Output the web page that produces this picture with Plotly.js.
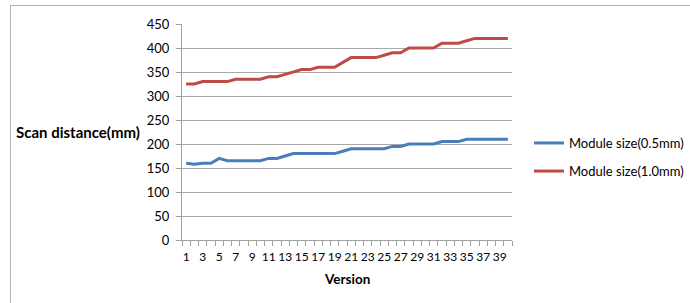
<!DOCTYPE html>
<html>
<head>
<meta charset="utf-8">
<script src="https://cdn.plot.ly/plotly-3.0.1.min.js"></script>
<style>
  html, body { margin: 0; padding: 0; background: #fff; overflow: hidden; }
  #wrap { position: relative; width: 690px; height: 303px; overflow: hidden; }
  #chart { position: absolute; left: 0; top: 0; width: 720px; height: 303px; }
  #frame { position: absolute; left: 10px; top: 5px; width: 690px; height: 310px;
           border-left: 1px solid #b4b4b4; border-top: 1px solid #b4b4b4; pointer-events: none; }
</style>
</head>
<body>
<div id="wrap">
  <div id="chart"></div>
  <div id="frame"></div>
</div>
<script>
const versions = Array.from({length: 40}, (_, i) => i + 1);
const size05 = [160, 158, 160, 160, 170, 165, 165, 165, 165, 165,
                170, 170, 175, 180, 180, 180, 180, 180, 180, 185,
                190, 190, 190, 190, 190, 195, 195, 200, 200, 200,
                200, 205, 205, 205, 210, 210, 210, 210, 210, 210];
const size10 = [325, 325, 330, 330, 330, 330, 335, 335, 335, 335,
                340, 340, 345, 350, 355, 355, 360, 360, 360, 370,
                380, 380, 380, 380, 385, 390, 390, 400, 400, 400,
                400, 410, 410, 410, 415, 420, 420, 420, 420, 420];
const xTickVals = versions.filter(v => v % 2 === 1);
const yTickVals = [0, 50, 100, 150, 200, 250, 300, 350, 400, 450];

const FONT = 'Lato, "Open Sans", sans-serif';

const traces = [
  { x: versions, y: size05, type: 'scatter', mode: 'lines', name: 'Module size(0.5mm)',
    line: { color: '#4a7ebb', width: 3 }, legend: 'legend' },
  { x: versions, y: size10, type: 'scatter', mode: 'lines', name: 'Module size(1.0mm)',
    line: { color: '#be4b48', width: 3 }, legend: 'legend2' }
];

const layout = {
  width: 720, height: 303,
  margin: { l: 182, r: 208, t: 24, b: 63, pad: 0, autoexpand: false },
  paper_bgcolor: 'rgba(0,0,0,0)',
  plot_bgcolor: 'rgba(0,0,0,0)',
  font: { family: FONT, size: 13, color: '#000' },
  showlegend: true,
  xaxis: {
    range: [0.5, 40.5],
    tickmode: 'array', tickvals: xTickVals, ticktext: xTickVals.map(String),
    tickangle: 0,
    ticks: '', showgrid: false, zeroline: false,
    showline: true, linecolor: '#a0a0a0', linewidth: 1,
    tickfont: { family: FONT, size: 12, color: '#000' },
    ticklabelstandoff: 6,
    minor: { tick0: 0.5, dtick: 1, ticks: 'outside', ticklen: 5, tickcolor: '#a0a0a0', tickwidth: 1, showgrid: false },
    fixedrange: true
  },
  yaxis: {
    range: [0, 450],
    tickmode: 'array', tickvals: yTickVals,
    ticks: 'outside', ticklen: 5, tickcolor: '#a0a0a0', tickwidth: 1,
    showgrid: true, gridcolor: '#a8a8a8', gridwidth: 1,
    zeroline: false, showline: true, linecolor: '#a0a0a0', linewidth: 1,
    tickfont: { family: FONT, size: 13, color: '#000' },
    ticklabelstandoff: 4,
    fixedrange: true
  },
  legend: {
    x: 1.0515, xanchor: 'left', y: 0.449, yanchor: 'middle',
    font: { family: FONT, size: 13, color: '#000' },
    bgcolor: 'rgba(0,0,0,0)', borderwidth: 0, itemwidth: 30
  },
  legend2: {
    x: 1.0515, xanchor: 'left', y: 0.319, yanchor: 'middle',
    font: { family: FONT, size: 13, color: '#000' },
    bgcolor: 'rgba(0,0,0,0)', borderwidth: 0, itemwidth: 30
  },
  annotations: [
    { text: '<b>Scan distance(mm)</b>', xref: 'paper', yref: 'paper',
      x: -0.315, y: 0.5, xanchor: 'center', yanchor: 'middle', showarrow: false,
      font: { family: FONT, size: 15, color: '#000' } },
    { text: '<b>Version</b>', xref: 'paper', yref: 'paper',
      x: 0.5, y: -0.18, xanchor: 'center', yanchor: 'middle', showarrow: false,
      font: { family: FONT, size: 13.5, color: '#000' } }
  ]
};

Plotly.newPlot('chart', traces, layout, { displayModeBar: false, staticPlot: true });
</script>
</body>
</html>
